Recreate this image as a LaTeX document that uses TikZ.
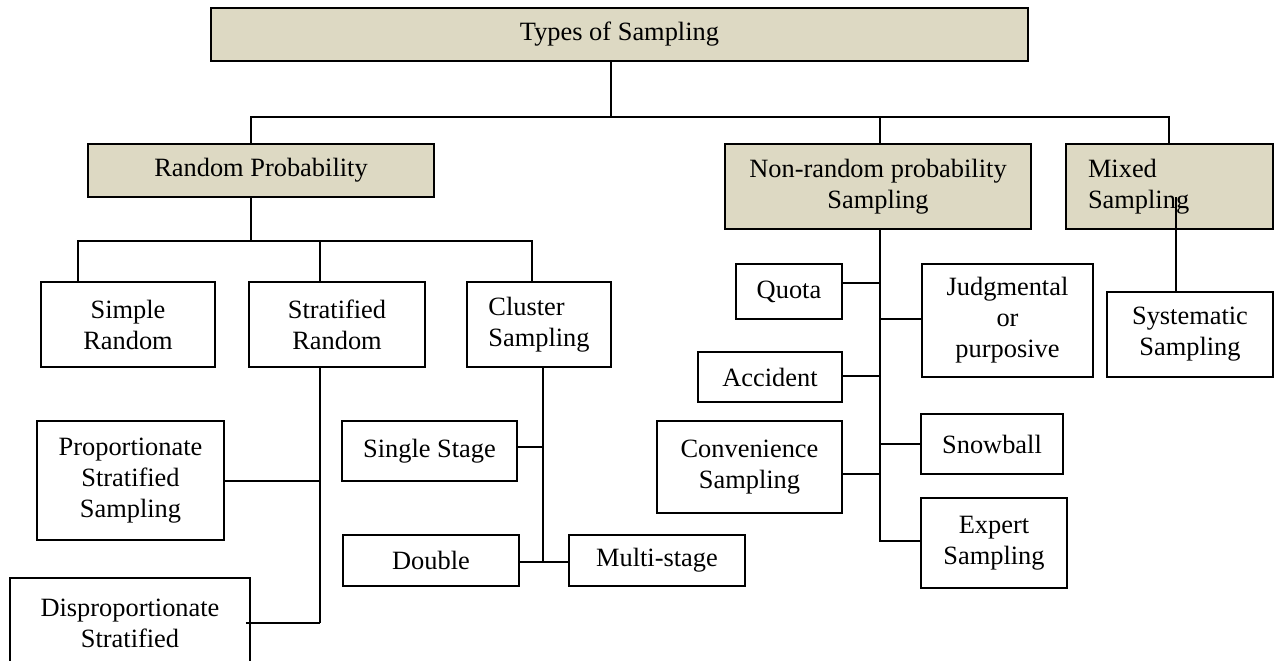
\documentclass[tikz,border=0pt]{standalone}
\usepackage{fontspec}
\setmainfont{Liberation Serif}
\definecolor{tanfill}{HTML}{DDD9C3}
\tikzset{
  bx/.style={draw, line width=1.7pt, rectangle, inner sep=0pt, align=center,
    font=\fontsize{26.4}{31}\selectfont},
  hd/.style={bx, fill=tanfill},
  ln/.style={line width=1.7pt},
}
\begin{document}
\begin{tikzpicture}[x=1pt,y=-1pt]
\useasboundingbox (0,0) rectangle (1280,661);
\clip (0,0) rectangle (1280,661);
% header boxes
\node[hd, minimum width=817, minimum height=53] (top) at (619.5,34.5) {Types of Sampling};
\node[hd, minimum width=346, minimum height=53] (rp) at (261,170.5) {Random Probability};
\node[hd, minimum width=306, minimum height=85] (nr) at (878,186.5) {Non-random probability\\Sampling};
\node[hd, text width=163, inner xsep=22, minimum height=85, align=left] (mx) at (1169.5,186.5) {Mixed\\Sampling};
% random branch
\node[bx, minimum width=174, minimum height=85] (sr) at (128,324.5) {Simple\\Random};
\node[bx, minimum width=176, minimum height=85] (st) at (337,324.5) {Stratified\\Random};
\node[bx, minimum width=144, minimum height=85, align=left] (cl) at (539,324.5) {Cluster\\Sampling};
\node[bx, minimum width=187, minimum height=119] (pr) at (130.5,480.5) {Proportionate\\Stratified\\Sampling};
\node[bx, minimum width=240, minimum height=90] (dp) at (130,623) {Disproportionate\\Stratified};
\node[bx, minimum width=175, minimum height=60] (ss) at (429.5,451) {Single Stage};
\node[bx, minimum width=176, minimum height=51] (db) at (431,560.5) {Double};
\node[bx, minimum width=176, minimum height=51] (ms) at (657,560.5) {Multi-stage};
% non-random branch
\node[bx, minimum width=106, minimum height=55] (qu) at (789,291.5) {Quota};
\node[bx, minimum width=171, minimum height=113] (jd) at (1007.5,320.5) {Judgmental\\or\\purposive};
\node[bx, minimum width=144, minimum height=50] (ac) at (770,377) {Accident};
\node[bx, minimum width=185, minimum height=92] (cv) at (749.5,467) {Convenience\\Sampling};
\node[bx, minimum width=142, minimum height=60] (sb) at (992,444) {Snowball};
\node[bx, minimum width=146, minimum height=90] (ex) at (994,543) {Expert\\Sampling};
% mixed branch
\node[bx, minimum width=166, minimum height=85] (sy) at (1190,334.5) {Systematic\\Sampling};

% junction coordinates
\coordinate (jt) at (611,117);
\coordinate (jl) at (251,117);
\coordinate (jn) at (880,117);
\coordinate (jr) at (1169,117);
\coordinate (ra) at (251,241);
\coordinate (a1) at (78,241);
\coordinate (a2) at (320,241);
\coordinate (a3) at (532,241);
\coordinate (s1) at (320,481);
\coordinate (s2) at (320,623);
\coordinate (k1) at (543,447);
\coordinate (k2) at (543,562);
\coordinate (nq) at (880,283);
\coordinate (nj) at (880,319);
\coordinate (na) at (880,376);
\coordinate (ns) at (880,444);
\coordinate (nc) at (880,474);
\coordinate (ne) at (880,541);
\coordinate (m1) at (1176,197);

% top level
\draw[ln] (top.south -| jt) -- (jt);
\draw[ln] (jl |- rp.north) -- (jl) -- (jr) -- (jr |- mx.north);
\draw[ln] (jn) -- (jn |- nr.north);
% random probability
\draw[ln] (rp.south -| ra) -- (ra);
\draw[ln] (a1 |- sr.north) -- (a1) -- (a3) -- (a3 |- cl.north);
\draw[ln] (a2) -- (a2 |- st.north);
% stratified
\draw[ln] (st.south -| s2) -- (s2);
\draw[ln] (pr.east |- s1) -- (s1);
\draw[ln] ([xshift=-5]dp.east |- s2) -- (s2);
% cluster
\draw[ln] (cl.south -| k2) -- (k2);
\draw[ln] (ss.east |- k1) -- (k1);
\draw[ln] (db.east |- k2) -- (ms.west |- k2);
% non-random
\draw[ln] (nr.south -| ne) -- (ne) -- (ex.west |- ne);
\draw[ln] (qu.east |- nq) -- (nq);
\draw[ln] (jd.west |- nj) -- (nj);
\draw[ln] (ac.east |- na) -- (na);
\draw[ln] (sb.west |- ns) -- (ns);
\draw[ln] (cv.east |- nc) -- (nc);
% mixed
\draw[ln] (m1) -- (m1 |- sy.north);
\end{tikzpicture}
\end{document}
